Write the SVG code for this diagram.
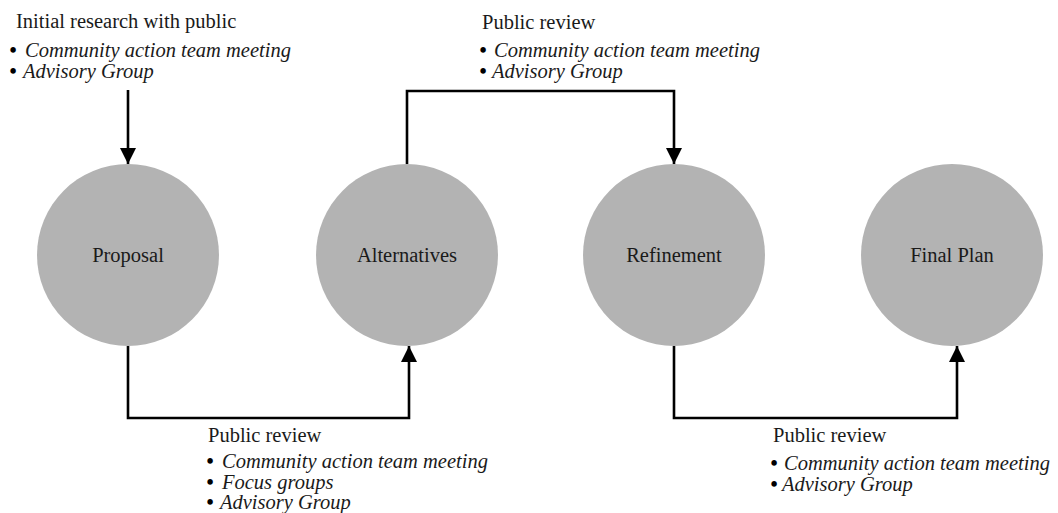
<svg xmlns="http://www.w3.org/2000/svg" width="1058" height="513" viewBox="0 0 1058 513">
  <style>
    .node { fill: #b3b3b3; }
    .label { font-family: "Liberation Serif", "Times New Roman", serif; font-size: 20.5px; fill: #1a1a1a; }
    .center { text-anchor: middle; }
    .item { font-style: italic; }
    .dot { font-weight: bold; fill: #000; }
    .wire { fill: none; stroke: #000; stroke-width: 2.6; stroke-linejoin: miter; }
  </style>
  <defs>
    <marker id="arrow" markerUnits="userSpaceOnUse" markerWidth="16" markerHeight="18" viewBox="0 0 16 18" refX="16" refY="8" orient="auto">
      <path d="M0,0 L16,8 L0,16 Z" fill="#000"/>
    </marker>
  </defs>

  <rect width="1058" height="513" fill="#fff"/>

  <!-- process stages -->
  <g id="proposal">
    <circle class="node" cx="128" cy="255" r="91"/>
    <text class="label center" x="128" y="262">Proposal</text>
  </g>
  <g id="alternatives">
    <circle class="node" cx="407" cy="255" r="91"/>
    <text class="label center" x="407" y="262">Alternatives</text>
  </g>
  <g id="refinement">
    <circle class="node" cx="674" cy="255" r="91"/>
    <text class="label center" x="674" y="262">Refinement</text>
  </g>
  <g id="final-plan">
    <circle class="node" cx="952" cy="255" r="91"/>
    <text class="label center" x="952" y="262">Final Plan</text>
  </g>

  <!-- connectors between stages -->
  <g id="connectors">
    <path class="wire" d="M128,90 L128,164" marker-end="url(#arrow)"/>
    <path class="wire" d="M407,164 L407,91 L674,91 L674,164" marker-end="url(#arrow)"/>
    <path class="wire" d="M128,346 L128,418 L409,418 L409,346" marker-end="url(#arrow)"/>
    <path class="wire" d="M674,346 L674,418 L957,418 L957,346" marker-end="url(#arrow)"/>
  </g>

  <!-- review notes -->
  <g id="note-initial" class="label">
    <text x="16" y="28">Initial research with public</text>
    <text y="57"><tspan class="dot" x="9.5">•</tspan><tspan class="item" x="25">Community action team meeting</tspan></text>
    <text y="78"><tspan class="dot" x="9.5">•</tspan><tspan class="item" x="23">Advisory Group</tspan></text>
  </g>
  <g id="note-review-1" class="label">
    <text x="482" y="29">Public review</text>
    <text y="57"><tspan class="dot" x="479.5">•</tspan><tspan class="item" x="494">Community action team meeting</tspan></text>
    <text y="78"><tspan class="dot" x="479.5">•</tspan><tspan class="item" x="492">Advisory Group</tspan></text>
  </g>
  <g id="note-review-2" class="label">
    <text x="208" y="442">Public review</text>
    <text y="468"><tspan class="dot" x="206.5">•</tspan><tspan class="item" x="222">Community action team meeting</tspan></text>
    <text y="489"><tspan class="dot" x="206.5">•</tspan><tspan class="item" x="222">Focus groups</tspan></text>
    <text y="509"><tspan class="dot" x="206.5">•</tspan><tspan class="item" x="220">Advisory Group</tspan></text>
  </g>
  <g id="note-review-3" class="label">
    <text x="773" y="442">Public review</text>
    <text y="470"><tspan class="dot" x="770.5">•</tspan><tspan class="item" x="784">Community action team meeting</tspan></text>
    <text y="491"><tspan class="dot" x="770.5">•</tspan><tspan class="item" x="782">Advisory Group</tspan></text>
  </g>
</svg>
